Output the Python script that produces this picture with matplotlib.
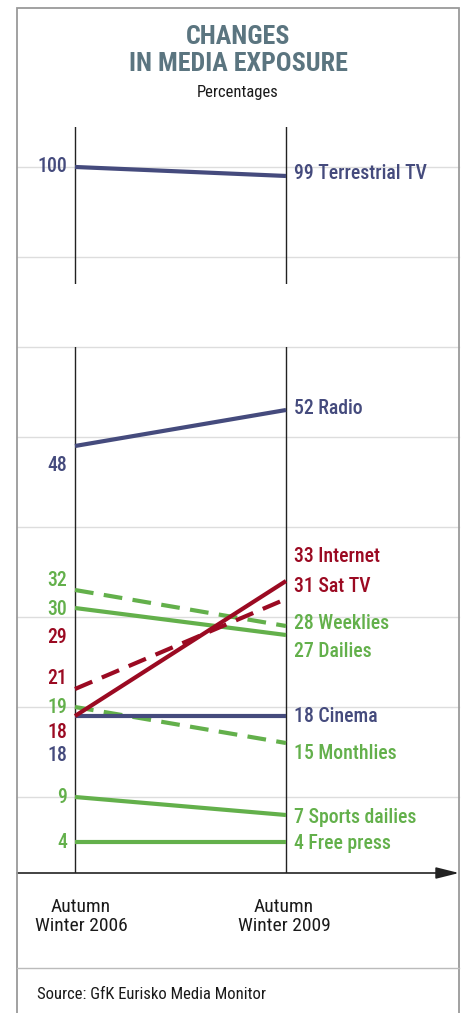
import matplotlib
matplotlib.use("Agg")
import matplotlib.pyplot as plt
from matplotlib.patches import Rectangle
from matplotlib.lines import Line2D

plt.rcParams['font.family'] = ['Roboto Condensed', 'Roboto', 'DejaVu Sans']

# Data
names = ["Weeklies", "Dailies", "Monthlies", "Sports dailies", "Free press",
         "Cinema", "Radio", "Internet", "Sat TV"]
start = [32, 30, 19, 9, 4, 18, 48, 18, 21]
end = [28, 27, 15, 7, 4, 18, 52, 33, 31]
group = ["press", "press", "press", "press", "press", "tv", "tv", "web", "web"]
dashed = [True, False, True, False, False, False, False, False, True]

top_name = "Terrestrial TV"
top_start, top_end = 100, 99

left_labels = ["32", "30", "29", "21", "19", "18", "18", "9", "4", "48"]
left_groups = ["press", "press", "web", "web", "press", "web", "tv", "press", "press", "tv"]
periods = ["Autumn\nWinter 2006", "Autumn\nWinter 2009"]
source = "Source: GfK Eurisko Media Monitor"

# label placement (value units, to avoid overlaps)
right_label_y = [28.3, 25.2, 13.8, 6.7, 3.8, 17.9, 52.2, 35.7, 32.4]
left_label_y = [33.1, 29.8, 26.7, 22.2, 18.9, 16.2, 13.6, 8.9, 3.9, 45.8]

colors = {"press": "#63b04b", "tv": "#454b7d", "web": "#9b0a22"}
title_color = "#5b7580"
grid_color = "#dddddd"

W, H = 462, 1013
fig = plt.figure(figsize=(W / 100, H / 100), dpi=100)


def fx(px):
    return px / W


def fy(py):
    return 1 - py / H


# axes: x=0 -> px 75, x=1 -> px 286 ; 9 px per unit on y
xl = ((17 - 75) / 211, (459 - 75) / 211)
ax_top = fig.add_axes([fx(17), fy(284), fx(459) - fx(17), fy(127) - fy(284)])
ax_bot = fig.add_axes([fx(17), fy(873), fx(459) - fx(17), fy(347) - fy(873)])
ax_top.set_ylim(87.0, 104.44)
ax_bot.set_ylim(0.556, 59.0)

for ax in (ax_top, ax_bot):
    ax.set_xlim(*xl)
    ax.axis("off")
    ax.axvline(0, color="#222222", lw=1.0, zorder=2)
    ax.axvline(1, color="#222222", lw=1.0, zorder=2)

for g in [100, 90]:
    ax_top.axhline(g, color=grid_color, lw=1, zorder=1, clip_on=False)
for g in [59, 49, 39, 29, 19, 9]:
    ax_bot.axhline(g, color=grid_color, lw=1, zorder=1, clip_on=False)

lab_kw = dict(fontsize=14.2, va="center", fontweight="medium")
off = 8 * 72 / 100

# top series
c = colors["tv"]
ax_top.plot([0, 1], [top_start, top_end], color=c, lw=3, solid_capstyle="butt", zorder=3)
ax_top.annotate(f"{top_end} {top_name}", (1, 99.33), xytext=(off, 0),
                textcoords="offset points", ha="left", color=c, **lab_kw)
ax_top.annotate(str(top_start), (0, 100), xytext=(-off, 0),
                textcoords="offset points", ha="right", color=c, **lab_kw)

# lower series, draw press first, then tv, then web
order = {"press": 3, "tv": 4, "web": 5}
for n, s, e, gname, d, ly in zip(names, start, end, group, dashed, right_label_y):
    c = colors[gname]
    ls = (0, (4.5, 2.5)) if d else "-"
    ax_bot.plot([0, 1], [s, e], color=c, lw=3, ls=ls, solid_capstyle="butt",
                dash_capstyle="butt", zorder=order[gname])
    ax_bot.annotate(f"{e} {n}", (1, ly), xytext=(off, 0), textcoords="offset points",
                    ha="left", color=c, **lab_kw)

for t, gname, ly in zip(left_labels, left_groups, left_label_y):
    ax_bot.annotate(t, (0, ly), xytext=(-off, 0), textcoords="offset points",
                    ha="right", color=colors[gname], **lab_kw)

# x axis with arrow
ax_bot.annotate("", xy=(1, 0), xytext=(0, 0), xycoords="axes fraction",
                arrowprops=dict(arrowstyle="-|>,head_length=1.4,head_width=0.35",
                                color="#222222", lw=1.2, shrinkA=0, shrinkB=0))

for i, p in enumerate(periods):
    ax_bot.annotate(p, (i, 0), xycoords=("data", "axes fraction"),
                    xytext=((6 if i == 0 else -2) * 0.72, -43.5 * 0.72),
                    textcoords="offset points", ha="center", va="center",
                    multialignment="center", fontsize=14, linespacing=1.1,
                    color="#1a1a1a")

# frame, separator, titles
fig.add_artist(Rectangle((fx(17), -0.01), fx(459) - fx(17), fy(8) + 0.01,
                         transform=fig.transFigure, fill=False,
                         edgecolor="#9a9a9a", lw=1.3))
fig.add_artist(Line2D([fx(17), fx(459)], [fy(968), fy(968)],
                      transform=fig.transFigure, color="#bbbbbb", lw=1))

fig.text(fx(238), fy(37), "CHANGES", ha="center", va="center", fontsize=18.7,
         fontweight="bold", color=title_color)
fig.text(fx(238), fy(64), "IN MEDIA EXPOSURE", ha="center", va="center",
         fontsize=18.7, fontweight="bold", color=title_color)
fig.text(fx(238), fy(93), "Percentages", ha="center", va="center",
         fontsize=12, color="#1a1a1a")
fig.text(fx(37), fy(994), source, ha="left", va="center", fontsize=12,
         color="#1a1a1a")

fig.savefig("out.png", dpi=100)
